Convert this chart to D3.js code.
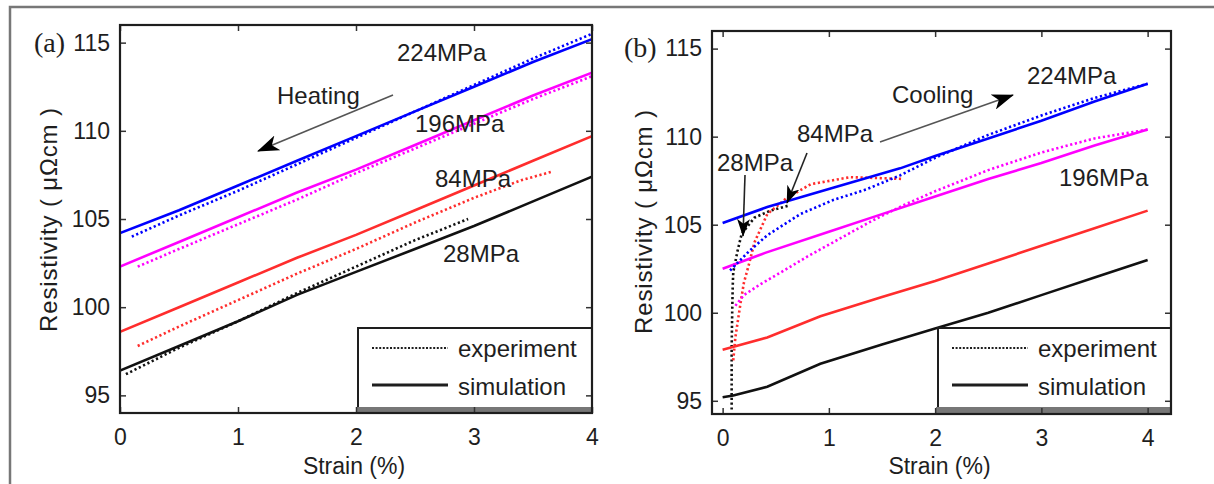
<!DOCTYPE html>
<html><head><meta charset="utf-8">
<script src="https://cdn.jsdelivr.net/npm/d3@7"></script>
<style>html,body{margin:0;padding:0;background:#fff;}svg{display:block;}</style>
</head><body>
<svg id="chart" width="1214" height="484"></svg>
<script>
// ---------- data ----------
const strainTicks = [0, 1, 2, 3, 4];
const resistivityTicks = [95, 100, 105, 110, 115];
const pressureLabels = ["28MPa", "84MPa", "196MPa", "224MPa"];
const seriesColors = ["#111111", "#ff2d2d", "#ff00ff", "#0000ff"];
const legendLabels = ["experiment", "simulation"];

// Panel (a) heating: [strain %, resistivity µΩcm]
const heatSim28  = [[0,96.4],[0.5,97.8],[1,99.2],[1.5,100.7],[2,102.0],[2.5,103.3],[3,104.6],[3.5,106.0],[4,107.4]];
const heatExp28  = [[0.05,96.2],[0.5,97.7],[1,99.2],[1.5,100.8],[2,102.3],[2.5,103.8],[2.95,105.0]];
const heatSim84  = [[0,98.6],[0.5,100.0],[1,101.4],[1.5,102.8],[2,104.1],[2.5,105.5],[3,106.9],[3.5,108.3],[4,109.7]];
const heatExp84  = [[0.15,97.8],[0.5,98.9],[1,100.4],[1.5,101.9],[2,103.3],[2.5,104.8],[3,106.2],[3.4,107.2],[3.67,107.7]];
const heatSim196 = [[0,102.3],[0.5,103.7],[1,105.1],[1.5,106.5],[2,107.8],[2.5,109.2],[3,110.6],[3.5,112.0],[4,113.3]];
const heatExp196 = [[0.15,102.3],[0.5,103.3],[1,104.7],[1.5,106.1],[2,107.6],[2.5,109.0],[3,110.4],[3.5,111.8],[4,113.1]];
const heatSim224 = [[0,104.2],[0.5,105.5],[1,106.9],[1.5,108.3],[2,109.7],[2.5,111.1],[3,112.5],[3.5,113.9],[4,115.2]];
const heatExp224 = [[0.1,104.0],[0.5,105.2],[1,106.6],[1.5,108.1],[2,109.6],[2.5,111.1],[3,112.6],[3.5,114.1],[4,115.5]];

// Panel (b) cooling
const coolSim28  = [[0,95.2],[0.1,95.3],[0.42,95.8],[0.92,97.1],[1.5,98.2],[2,99.1],[2.5,100.0],[3,101.0],[3.5,102.0],[4,103.0]];
const coolExp28  = [[0.085,94.5],[0.085,96],[0.085,98],[0.09,100],[0.095,101.5],[0.1,102.3],[0.14,103.5],[0.18,104.5],[0.3,105.4],[0.45,105.8],[0.63,106.1]];
const coolSim84  = [[0,97.9],[0.42,98.6],[0.92,99.8],[1.5,100.9],[2,101.8],[2.5,102.8],[3,103.8],[3.5,104.8],[4,105.8]];
const coolExp84  = [[0.1,97.3],[0.12,98.6],[0.14,99.4],[0.17,100.6],[0.2,101.7],[0.25,102.8],[0.3,104.0],[0.42,105.6],[0.6,106.5],[0.83,107.3],[1.2,107.7],[1.7,107.6]];
const coolSim196 = [[0,102.5],[0.4,103.4],[1,104.6],[1.5,105.6],[2,106.6],[2.5,107.6],[3,108.5],[3.5,109.5],[4,110.4]];
const coolExp196 = [[0.12,100.4],[0.2,101.0],[0.35,101.6],[0.55,102.3],[0.8,103.2],[1.1,104.2],[1.4,105.2],[1.7,106.1],[2,106.9],[2.5,108.1],[3,109.1],[3.5,109.9],[4,110.4]];
const coolSim224 = [[0,105.1],[0.42,106.0],[1.04,107.1],[1.67,108.2],[2,108.9],[2.5,109.9],[3,110.9],[3.5,112.0],[4,113.0]];
const coolExp224 = [[0.07,102.4],[0.25,103.5],[0.42,104.4],[0.73,105.6],[1.04,106.4],[1.35,107.0],[1.67,107.8],[2,108.8],[2.5,110.1],[3,111.2],[3.5,112.2],[4,113.0]];

// ---------- drawing ----------
const svg = d3.select("#chart");
const SANS = "'Liberation Sans', Arial, sans-serif";
const SERIF = "'Liberation Serif', 'Times New Roman', serif";
const FS = 24;
const TICK_FS = 23;
const INK = "#1e1e1e";

// outer frame
svg.append("path").attr("d", "M10,484 L10,7 L1214,7").attr("fill", "none")
   .attr("stroke", "#777").attr("stroke-width", 2.5);

const defs = svg.append("defs");
defs.append("marker").attr("id", "head")
  .attr("viewBox", "0 0 22 16").attr("refX", 21).attr("refY", 8)
  .attr("markerWidth", 22).attr("markerHeight", 16).attr("markerUnits", "userSpaceOnUse")
  .attr("orient", "auto")
  .append("path").attr("d", "M0,0 L22,8 L0,16 L6,8 Z").attr("fill", "#000");
defs.append("marker").attr("id", "headSmall")
  .attr("viewBox", "0 0 22 16").attr("refX", 21).attr("refY", 8)
  .attr("markerWidth", 18).attr("markerHeight", 13).attr("markerUnits", "userSpaceOnUse")
  .attr("orient", "auto")
  .append("path").attr("d", "M0,0 L22,8 L0,16 L6,8 Z").attr("fill", "#000");

function drawPanel(p) {
  const g = svg.append("g");
  const x = d3.scaleLinear().domain(p.xDomain).range([p.left, p.right]);
  const y = d3.scaleLinear().domain(p.yDomain).range([p.bottom, p.top]);
  const line = d3.line().x(d => x(d[0])).y(d => y(d[1]));

  const clip = "clip" + p.id;
  defs.append("clipPath").attr("id", clip).append("rect")
    .attr("x", p.left).attr("y", p.top).attr("width", p.right - p.left).attr("height", p.bottom - p.top);

  const plot = g.append("g").attr("clip-path", `url(#${clip})`);
  p.series.forEach((s, i) => {
    plot.append("path").attr("d", line(s.exp)).attr("fill", "none")
      .attr("stroke", seriesColors[i]).attr("stroke-width", 2.6)
      .attr("stroke-dasharray", "2.2 2.6");
    plot.append("path").attr("d", line(s.sim)).attr("fill", "none")
      .attr("stroke", seriesColors[i]).attr("stroke-width", 2.6);
  });

  // legend
  const lg = g.append("g");
  lg.append("rect").attr("x", p.legX).attr("y", 328).attr("width", p.right - p.legX).attr("height", 80)
    .attr("fill", "#fff").attr("stroke", INK).attr("stroke-width", 2);
  lg.append("rect").attr("x", p.legX - 2).attr("y", 407).attr("width", p.right - p.legX + 2).attr("height", p.bottom - 407)
    .attr("fill", "#777");
  lg.append("line").attr("x1", p.legX + 14).attr("x2", p.legX + 90).attr("y1", 348).attr("y2", 348)
    .attr("stroke", INK).attr("stroke-width", 1.8).attr("stroke-dasharray", "2 1.6");
  lg.append("line").attr("x1", p.legX + 14).attr("x2", p.legX + 90).attr("y1", 385).attr("y2", 385)
    .attr("stroke", INK).attr("stroke-width", 3);
  lg.append("text").attr("x", p.legX + 100).attr("y", 357).text(legendLabels[0]);
  lg.append("text").attr("x", p.legX + 100).attr("y", 395).text(legendLabels[1]);
  lg.selectAll("text").attr("font-family", SANS).attr("font-size", FS).attr("fill", INK);

  // axes frame and ticks
  const tl = 6;
  g.append("g").attr("transform", `translate(0,${p.bottom})`)
    .call(d3.axisBottom(x).tickValues(strainTicks).tickFormat(d3.format("d")).tickSizeInner(-tl).tickSizeOuter(0).tickPadding(16));
  g.append("g").attr("transform", `translate(0,${p.top})`)
    .call(d3.axisTop(x).tickValues(strainTicks).tickFormat("").tickSizeInner(-tl).tickSizeOuter(0));
  g.append("g").attr("transform", `translate(${p.left},0)`)
    .call(d3.axisLeft(y).tickValues(resistivityTicks).tickFormat(d3.format("d")).tickSizeInner(-tl).tickSizeOuter(0).tickPadding(10));
  g.append("g").attr("transform", `translate(${p.right},0)`)
    .call(d3.axisRight(y).tickValues(resistivityTicks).tickFormat("").tickSizeInner(-tl).tickSizeOuter(0));
  g.selectAll(".domain").remove();
  g.selectAll(".tick line").attr("stroke", "#333").attr("stroke-width", 1.5);
  g.selectAll(".tick text").attr("font-family", SANS).attr("font-size", TICK_FS).attr("fill", INK);
  g.append("rect").attr("x", p.left).attr("y", p.top).attr("width", p.right - p.left).attr("height", p.bottom - p.top)
    .attr("fill", "none").attr("stroke", INK).attr("stroke-width", 2.2);

  // axis titles
  g.append("text").attr("x", (p.left + p.right) / 2 - 2).attr("y", 474).attr("text-anchor", "middle")
    .attr("font-family", SANS).attr("font-size", 23).attr("fill", INK).text("Strain (%)");
  g.append("text").attr("transform", `translate(${p.yLabelX},${p.yLabelY}) rotate(-90)`).attr("text-anchor", "middle")
    .attr("font-family", SANS).attr("font-size", FS).attr("fill", INK)
    .attr("textLength", 224).attr("lengthAdjust", "spacing").text("Resistivity ( μΩcm )");
  g.append("text").attr("x", p.tagX).attr("y", p.tagY).attr("font-family", SERIF).attr("font-size", 28)
    .attr("fill", INK).text(p.tag);

  // series labels
  p.labels.forEach(l => {
    g.append("text").attr("x", l[1]).attr("y", l[2]).attr("font-family", SANS).attr("font-size", FS)
      .attr("fill", INK).text(pressureLabels[l[0]]);
  });
  // arrows
  p.arrows.forEach(a => {
    g.append("line").attr("x1", a[0]).attr("y1", a[1]).attr("x2", a[2]).attr("y2", a[3])
      .attr("stroke", a[4]).attr("stroke-width", 1.6).attr("marker-end", `url(#${a[5]})`);
  });
  if (p.note) {
    g.append("text").attr("x", p.note[1]).attr("y", p.note[2]).attr("font-family", SANS).attr("font-size", FS)
      .attr("fill", INK).text(p.note[0]);
  }
}

drawPanel({
  id: "a", tag: "(a)", tagX: 34, tagY: 52,
  xDomain: [0, 4], yDomain: [94, 116], left: 120, right: 592, top: 25, bottom: 413,
  legX: 358, yLabelX: 57, yLabelY: 220,
  series: [
    {sim: heatSim28, exp: heatExp28}, {sim: heatSim84, exp: heatExp84},
    {sim: heatSim196, exp: heatExp196}, {sim: heatSim224, exp: heatExp224}
  ],
  labels: [[3, 397, 61], [2, 415, 132], [1, 435, 187], [0, 443, 262]],
  arrows: [[393, 95, 258, 151, "#555", "head"]],
  note: ["Heating", 277, 104]
});

drawPanel({
  id: "b", tag: "(b)", tagX: 624, tagY: 57,
  xDomain: [-0.1, 4.22], yDomain: [94.25, 116], left: 712, right: 1171, top: 31, bottom: 414,
  legX: 938, yLabelX: 652, yLabelY: 222,
  series: [
    {sim: coolSim28, exp: coolExp28}, {sim: coolSim84, exp: coolExp84},
    {sim: coolSim196, exp: coolExp196}, {sim: coolSim224, exp: coolExp224}
  ],
  labels: [[3, 1027, 84], [2, 1059, 186], [1, 797, 142], [0, 717, 171]],
  arrows: [[880, 142, 1013, 95, "#555", "head"], [807, 153, 787, 203, "#222", "headSmall"], [745, 175, 743, 236, "#222", "headSmall"]],
  note: ["Cooling", 892, 103]
});
</script>
</body></html>
